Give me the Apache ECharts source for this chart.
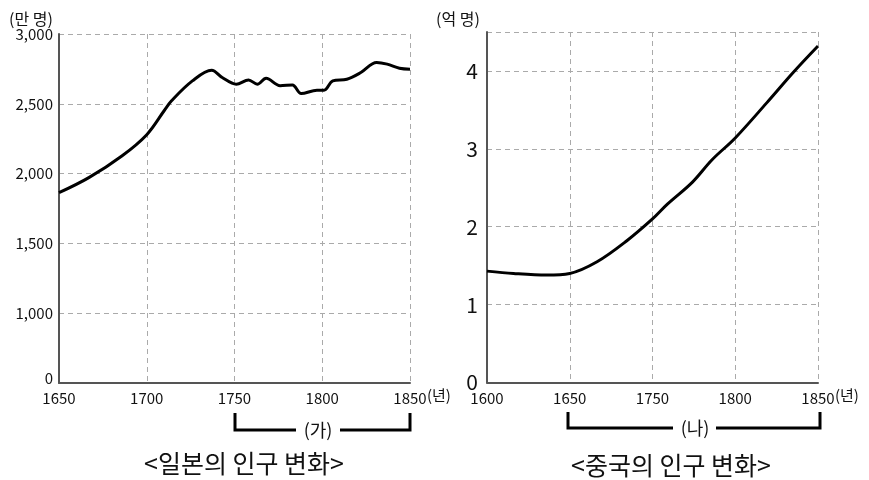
<!DOCTYPE html>
<html>
<head>
<meta charset="utf-8">
<script src="https://cdn.jsdelivr.net/npm/echarts@6/dist/echarts.min.js"></script>
<style>html,body{margin:0;padding:0;background:#fff}#c{width:869px;height:480px}</style>
</head>
<body>
<div id="c"></div>
<script>
// Japan population (만 명)
const jpYears  = [1650, 1667, 1686, 1700, 1710, 1714, 1726, 1737, 1743, 1751, 1758, 1763, 1768, 1776, 1783, 1788, 1797, 1801, 1806, 1814, 1822, 1831, 1837, 1844, 1850];
const jpValues = [1863, 1971, 2128, 2279, 2452, 2520, 2664, 2740, 2688, 2640, 2671, 2640, 2683, 2630, 2634, 2573, 2597, 2597, 2664, 2676, 2724, 2796, 2784, 2755, 2748];
const jpXTicks = [1650, 1700, 1750, 1800, 1850];

// China population (억 명)
const cnYears  = [1600, 1616, 1636, 1650, 1683, 1719, 1750, 1759, 1774, 1786, 1800, 1819, 1835, 1850];
const cnValues = [1.43, 1.40, 1.38, 1.40, 1.55, 1.82, 2.10, 2.29, 2.57, 2.86, 3.14, 3.59, 3.98, 4.32];
const cnXTicks = [1600, 1650, 1750, 1800, 1850];   // evenly spaced on the axis

// map a year onto the evenly spaced tick slots of the China axis
function yearToSlot(y) {
  for (let i = 0; i < cnXTicks.length - 1; i++) {
    const a = cnXTicks[i], b = cnXTicks[i + 1];
    if (y <= b) return i + (y - a) / (b - a);
  }
  return cnXTicks.length - 1;
}

const FONT = '"Noto Sans CJK KR", "Noto Sans", sans-serif';
const TXT = '#111';
const axisLine = { show: true, onZero: false, lineStyle: { color: '#555', width: 2 } };
const split = { show: true, lineStyle: { color: '#aaa', width: 1, type: [5, 4] } };

const chart = echarts.init(document.getElementById('c'));
chart.setOption({
  backgroundColor: '#fff',
  animation: false,
  grid: [
    { left: 59, top: 34, width: 351, height: 349, containLabel: false, outerBoundsMode: 'none' },
    { left: 487, top: 32, width: 331, height: 350.5, containLabel: false, outerBoundsMode: 'none' }
  ],
  xAxis: [
    { type: 'value', gridIndex: 0, min: jpXTicks[0], max: jpXTicks[jpXTicks.length - 1], interval: 50,
      axisLine: axisLine, axisTick: { show: false }, splitLine: split,
      axisLabel: { color: TXT, fontSize: 15, fontFamily: FONT, margin: 8, formatter: v => String(v) } },
    { type: 'value', gridIndex: 1, min: 0, max: cnXTicks.length - 1, interval: 1,
      axisLine: axisLine, axisTick: { show: false }, splitLine: split,
      axisLabel: { color: TXT, fontSize: 15, fontFamily: FONT, margin: 8,
        formatter: v => String(cnXTicks[Math.round(v)]) } }
  ],
  yAxis: [
    { type: 'value', gridIndex: 0, min: 500, max: 3000, interval: 500,
      axisLine: axisLine, axisTick: { show: false }, splitLine: split,
      axisLabel: { color: TXT, fontSize: 15, fontFamily: FONT, margin: 6,
        formatter: v => v === 500 ? '{z|0}' : v.toLocaleString('en-US'),
        rich: { z: { color: TXT, fontSize: 15, fontFamily: FONT, padding: [0, 0, 10, 0] } } } },
    { type: 'value', gridIndex: 1, min: 0, max: 4.5, interval: 1,
      axisLine: axisLine, axisTick: { show: false }, splitLine: split,
      axisLabel: { color: TXT, fontSize: 21, fontFamily: FONT, margin: 9,
        formatter: v => (Number.isInteger(v) ? String(v) : '') } }
  ],
  series: [
    { type: 'line', xAxisIndex: 0, yAxisIndex: 0, smooth: 0.35, showSymbol: false,
      lineStyle: { color: '#000', width: 3 },
      data: jpYears.map((y, i) => [y, jpValues[i]]) },
    { type: 'line', xAxisIndex: 1, yAxisIndex: 1, smooth: 0.35, showSymbol: false,
      lineStyle: { color: '#000', width: 3 },
      data: cnYears.map((y, i) => [yearToSlot(y), cnValues[i]]) }
  ],
  graphic: [
    { type: 'text', left: 9, top: 11, style: { text: '(만 명)', fill: TXT, font: '16px ' + FONT } },
    { type: 'text', left: 436, top: 11, style: { text: '(억 명)', fill: TXT, font: '16px ' + FONT } },
    { type: 'text', left: 427, top: 388, style: { text: '(년)', fill: TXT, font: '15px ' + FONT } },
    { type: 'text', left: 835, top: 388, style: { text: '(년)', fill: TXT, font: '15px ' + FONT } },
    { type: 'polyline', shape: { points: [[235, 413], [235, 430], [296, 430]] }, style: { stroke: '#000', lineWidth: 3, fill: null } },
    { type: 'polyline', shape: { points: [[340, 430], [410, 430], [410, 413]] }, style: { stroke: '#000', lineWidth: 3, fill: null } },
    { type: 'text', x: 318, y: 430, style: { text: '(가)', fill: TXT, font: '18px ' + FONT, align: 'center', verticalAlign: 'middle' } },
    { type: 'polyline', shape: { points: [[568, 412], [568, 428], [673, 428]] }, style: { stroke: '#000', lineWidth: 3, fill: null } },
    { type: 'polyline', shape: { points: [[716, 428], [820, 428], [820, 412]] }, style: { stroke: '#000', lineWidth: 3, fill: null } },
    { type: 'text', x: 695, y: 428, style: { text: '(나)', fill: TXT, font: '18px ' + FONT, align: 'center', verticalAlign: 'middle' } },
    { type: 'text', x: 244, y: 463, style: { text: '<일본의 인구 변화>', fill: TXT, font: '25px ' + FONT, align: 'center', verticalAlign: 'middle' } },
    { type: 'text', x: 671, y: 465, style: { text: '<중국의 인구 변화>', fill: TXT, font: '25px ' + FONT, align: 'center', verticalAlign: 'middle' } }
  ]
});
</script>
</body>
</html>
